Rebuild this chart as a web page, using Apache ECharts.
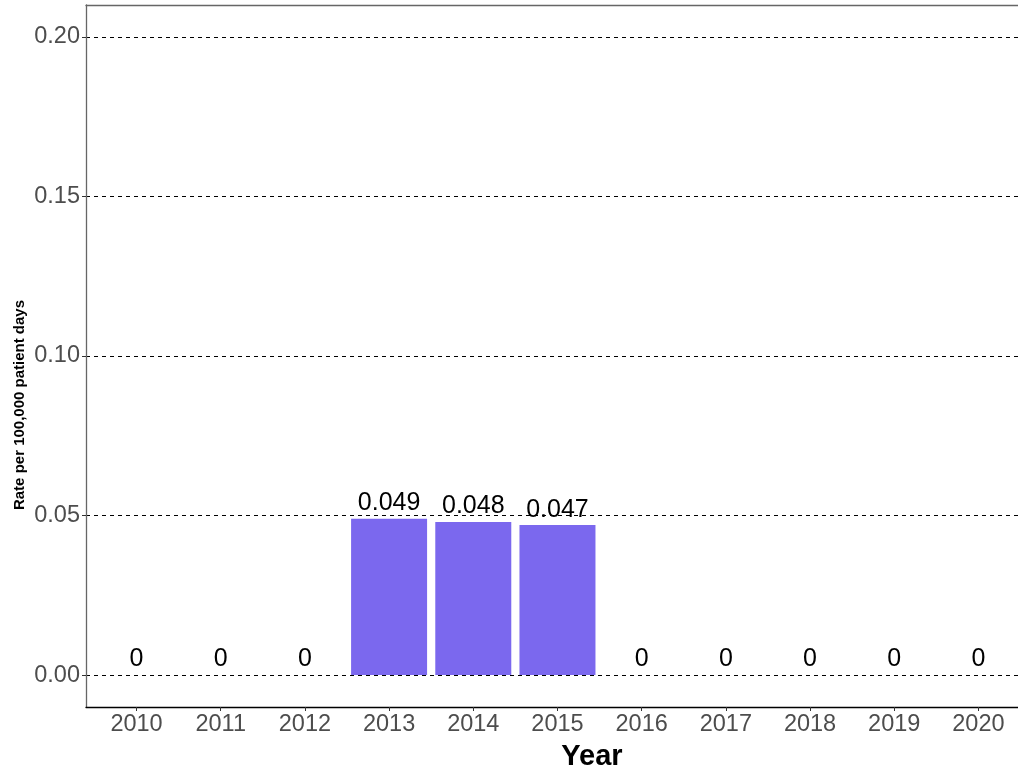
<!DOCTYPE html>
<html>
<head>
<meta charset="utf-8">
<script src="https://cdn.jsdelivr.net/npm/echarts@6/dist/echarts.min.js"></script>
<style>html,body{margin:0;padding:0;background:#fff}#c{width:1018px;height:774px}</style>
</head>
<body>
<div id="c"></div>
<script>
const years = [2010, 2011, 2012, 2013, 2014, 2015, 2016, 2017, 2018, 2019, 2020];
const rates = [0, 0, 0, 0.049, 0.048, 0.047, 0, 0, 0, 0, 0];
const yTicks = [0, 0.05, 0.10, 0.15, 0.20];
const yTickLabels = ['0.00', '0.05', '0.10', '0.15', '0.20'];

const FONT = '"Liberation Sans", Arial, sans-serif';
const chart = echarts.init(document.getElementById('c'), null, {renderer: 'canvas'});
chart.setOption({
  animation: false,
  backgroundColor: '#fff',
  grid: {left: 86, right: 0, top: 5, bottom: 67, containLabel: false},
  xAxis: [{
    type: 'value', min: 2009.4, max: 2020.47,
    axisLine: {show: true, onZero: false, lineStyle: {color: '#000', width: 1.3}},
    axisTick: {show: true, length: 4, customValues: years, lineStyle: {color: '#333'}},
    axisLabel: {customValues: years, color: '#4d4d4d', fontSize: 23.5, fontFamily: FONT, margin: 6,
      formatter: v => String(Math.round(v))},
    splitLine: {show: false}
  }, {
    type: 'value', position: 'top', min: 2009.4, max: 2020.47,
    axisLine: {show: true, onZero: false, lineStyle: {color: '#666', width: 1.3}},
    axisTick: {show: false}, axisLabel: {show: false}, splitLine: {show: false}
  }],
  yAxis: {
    type: 'value', min: -0.01, max: 0.21,
    axisLine: {show: true, onZero: false, lineStyle: {color: '#666', width: 1.3}},
    axisTick: {show: true, length: 4, customValues: yTicks, lineStyle: {color: '#333'}},
    axisLabel: {customValues: yTicks, color: '#4d4d4d', fontSize: 23.5, fontFamily: FONT, margin: 6,
      formatter: v => yTickLabels[yTicks.findIndex(t => Math.abs(t - v) < 1e-9)] ?? v.toFixed(2)},
    splitLine: {show: true, lineStyle: {color: '#000', type: [4, 4], width: 1}}
  },
  series: [{
    type: 'bar',
    xAxisIndex: 0,
    barWidth: 76,
    data: years.map((y, i) => [y, rates[i]]),
    itemStyle: {color: '#7B68EE'},
    label: {show: true, position: 'top', distance: 3, color: '#000', fontSize: 25, fontFamily: FONT,
      formatter: p => String(p.value[1])}
  }],
  graphic: [
    {type: 'text', x: 592, y: 757,
      style: {text: 'Year', font: 'bold 29px ' + FONT, fill: '#000', align: 'center', verticalAlign: 'middle'}},
    {type: 'text', x: 20, y: 405, rotation: Math.PI / 2,
      style: {text: 'Rate per 100,000 patient days', font: 'bold 15px ' + FONT, fill: '#000',
        align: 'center', verticalAlign: 'middle'}}
  ]
});
</script>
</body>
</html>
